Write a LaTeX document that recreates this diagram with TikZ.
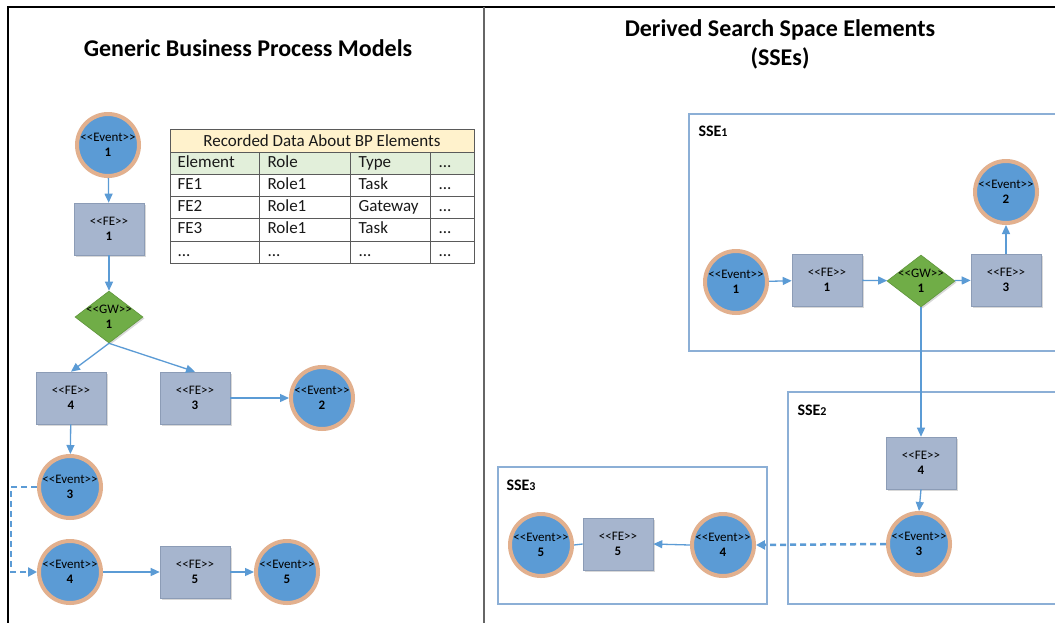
\documentclass[tikz,border=0pt]{standalone}
\usepackage{fontspec}
\setmainfont{Carlito}
\usetikzlibrary{arrows.meta,shapes.geometric,shadows}
\definecolor{evblue}{RGB}{91,155,213}
\definecolor{rim}{RGB}{226,176,142}
\definecolor{fegray}{RGB}{166,181,206}
\definecolor{feborder}{RGB}{140,156,182}
\definecolor{gwgreen}{RGB}{112,173,71}
\definecolor{gwborder}{RGB}{96,150,60}
\definecolor{lineblue}{RGB}{91,155,213}
\definecolor{ssebox}{RGB}{140,175,214}
\definecolor{tabyellow}{RGB}{255,242,204}
\definecolor{tabgreen}{RGB}{226,239,218}
\definecolor{tabgrid}{RGB}{90,90,90}
\newcommand\sopen{<\kern0pt<}
\newcommand\sclose{>\kern0pt>}
\tikzset{
  nodefont/.style={font=\fontsize{13}{15}\selectfont},
  event/.style={circle, fill=evblue, draw=rim, line width=4pt, minimum size=62pt,
    inner sep=0pt, align=center, nodefont,
    drop shadow={opacity=0.25, shadow xshift=1pt, shadow yshift=-1.5pt}},
  fe/.style={rectangle, fill=fegray, draw=feborder, line width=0.6pt,
    minimum width=70pt, minimum height=52pt, inner sep=0pt, align=center, nodefont,
    drop shadow={opacity=0.3, shadow xshift=1.5pt, shadow yshift=-1.5pt}},
  gw/.style={diamond, fill=gwgreen, draw=gwborder, line width=0.6pt,
    minimum width=68pt, minimum height=52pt, inner sep=0pt,
    drop shadow={opacity=0.3, shadow xshift=1.5pt, shadow yshift=-1.5pt}},
  gwtext/.style={align=center, nodefont},
  conn/.style={draw=lineblue, line width=1.3pt, -{Triangle[length=9pt,width=8pt]}},
  plainconn/.style={draw=lineblue, line width=1.3pt},
  dashconn/.style={draw=lineblue, line width=2.5pt, dash pattern=on 6pt off 4pt,
    -{Triangle[length=9pt,width=9pt]}},
  ssebox/.style={draw=ssebox, line width=1.3pt},
  sselabel/.style={anchor=west, font=\fontsize{16}{18}\selectfont\bfseries},
  title/.style={font=\fontsize{24}{29}\selectfont\bfseries, align=center},
  cell/.style={anchor=west, font=\fontsize{17}{20}\selectfont, text=black!90,
    text height=11.5pt, text depth=3.5pt},
}
\begin{document}
\begin{tikzpicture}[x=1pt, y=-1pt]
\useasboundingbox (0,0) rectangle (1055,622);
\clip (0,0) rectangle (1055,622);
\fill[white] (0,0) rectangle (1055,622);
% frame
\draw[black, line width=2pt] (8,623) -- (8,7) -- (1056,7);
\draw[black!60, line width=1.3pt] (484,7) -- (484,623);

% titles
\node[title] (t1) at (248,48) {Generic Business Process Models};
\node[title] (t2) at (780,44) {Derived Search Space Elements\\(SSEs)};

% table
\fill[tabyellow] (170,129) rectangle (474,152);
\fill[tabgreen] (170,152) rectangle (474,174);
\draw[tabgrid, line width=1pt] (170,129) rectangle (474,263);
\foreach \yy in {152,174,196,218,241} \draw[tabgrid, line width=1pt] (170,\yy) -- (474,\yy);
\foreach \xx in {259,350,430} \draw[tabgrid, line width=1pt] (\xx,152) -- (\xx,263);
\node[font=\fontsize{17}{20}\selectfont, text=black!90] (th) at (322,140.5) {Recorded Data About BP Elements};
\node[cell] (c11) at (174,163) {Element};
\node[cell] (c12) at (264,163) {Role};
\node[cell] (c13) at (355,163) {Type};
\node[cell] (c14) at (435,163) {...};
\node[cell] (c21) at (174,185) {FE1};
\node[cell] (c22) at (264,185) {Role1};
\node[cell] (c23) at (355,185) {Task};
\node[cell] (c24) at (435,185) {...};
\node[cell] (c31) at (174,207) {FE2};
\node[cell] (c32) at (264,207) {Role1};
\node[cell] (c33) at (355,207) {Gateway};
\node[cell] (c34) at (435,207) {...};
\node[cell] (c41) at (174,229.5) {FE3};
\node[cell] (c42) at (264,229.5) {Role1};
\node[cell] (c43) at (355,229.5) {Task};
\node[cell] (c44) at (435,229.5) {...};
\node[cell] (c51) at (174,252) {...};
\node[cell] (c52) at (264,252) {...};
\node[cell] (c53) at (355,252) {...};
\node[cell] (c54) at (435,252) {...};

% left model
\node[event] (e1) at (108,145) {\sopen Event\sclose\\\textbf{1}};
\node[fe] (fe1) at (109,229) {\sopen FE\sclose\\\textbf{1}};
\node[gw, label={[gwtext]center:\sopen GW\sclose\\\textbf{1}}] (gw1) at (109,317) {};
\node[fe] (fe4) at (71,398) {\sopen FE\sclose\\\textbf{4}};
\node[fe] (fe3) at (195,398) {\sopen FE\sclose\\\textbf{3}};
\node[event] (e2) at (322,398) {\sopen Event\sclose\\\textbf{2}};
\node[event] (e3) at (70,487) {\sopen Event\sclose\\\textbf{3}};
\node[event] (e4) at (70,572) {\sopen Event\sclose\\\textbf{4}};
\node[fe] (fe5) at (195,572) {\sopen FE\sclose\\\textbf{5}};
\node[event] (e5) at (287,572) {\sopen Event\sclose\\\textbf{5}};
\coordinate (dl) at (11,0);

\draw[conn] (e1) -- (fe1);
\draw[conn] (fe1) -- (gw1);
\draw[conn] (gw1.south) -- (fe4.north);
\draw[conn] (gw1.south) -- (fe3.north);
\draw[conn] (fe3) -- (e2);
\draw[conn] (fe4) -- (e3);
\draw[dashconn] (e3.west) -- (e3.west -| dl) |- (e4.west);
\draw[conn] (e4) -- (fe5);
\draw[conn] (fe5) -- (e5);

% SSE boxes
\draw[ssebox] (689,114) rectangle (1070,351);
\draw[ssebox] (788,392) rectangle (1070,604);
\draw[ssebox] (498,467) rectangle (767,604);
\node[sselabel] (l1) at (695,131) {SSE{\fontsize{12}{14}\selectfont 1}};
\node[sselabel] (l2) at (794,410) {SSE{\fontsize{12}{14}\selectfont 2}};
\node[sselabel] (l3) at (503,485) {SSE{\fontsize{12}{14}\selectfont 3}};

% right model
\node[event] (re1) at (736,282) {\sopen Event\sclose\\\textbf{1}};
\node[fe] (rfe1) at (827,280) {\sopen FE\sclose\\\textbf{1}};
\node[gw, label={[gwtext]center:\sopen GW\sclose\\\textbf{1}}] (rgw1) at (921,281) {};
\node[fe] (rfe3) at (1006,280) {\sopen FE\sclose\\\textbf{3}};
\node[event] (re2) at (1006,192) {\sopen Event\sclose\\\textbf{2}};
\node[fe] (rfe4) at (921,463) {\sopen FE\sclose\\\textbf{4}};
\node[event] (re3) at (919,544) {\sopen Event\sclose\\\textbf{3}};
\node[event] (re4) at (723,545) {\sopen Event\sclose\\\textbf{4}};
\node[fe] (rfe5) at (618,544) {\sopen FE\sclose\\\textbf{5}};
\node[event] (re5) at (541,545) {\sopen Event\sclose\\\textbf{5}};

\draw[conn] (re1) -- (rfe1);
\draw[conn] (rfe1) -- (rgw1);
\draw[conn] (rgw1) -- (rfe3);
\draw[conn] (rfe3) -- (re2);
\draw[conn] (rgw1.south) -- (rfe4.north);
\draw[conn] (rfe4.south) -- (re3.north);
\draw[dashconn] (re3.west) -- (re4.east);
\draw[conn] (re4.west) -- (rfe5.east);
\draw[plainconn] (rfe5.west) -- (re5.east);
\end{tikzpicture}
\end{document}
